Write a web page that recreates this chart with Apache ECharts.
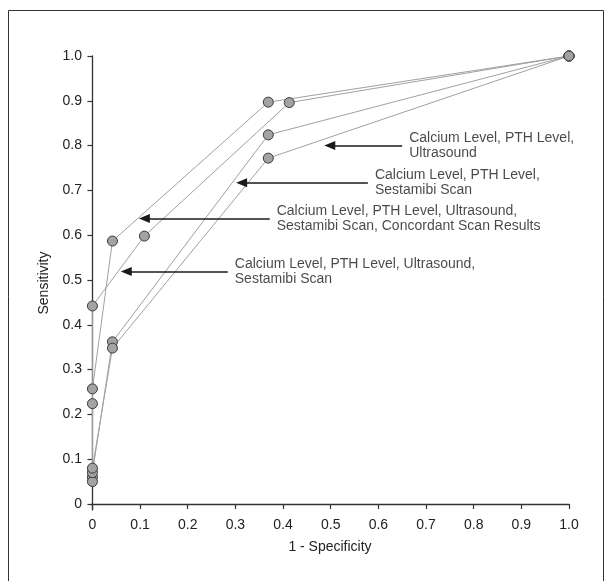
<!DOCTYPE html>
<html>
<head>
<meta charset="utf-8">
<script src="https://cdn.jsdelivr.net/npm/echarts@6/dist/echarts.min.js"></script>
<style>html,body{margin:0;padding:0;background:#fff}#c{width:611px;height:581px}</style>
</head>
<body>
<div id="c"></div>
<script>
// ROC curve points: [1-specificity, sensitivity]
const curveConcordant = [[0,0.060],[0,0.257],[0.042,0.587],[0.369,0.897],[1,1]];
const curveUsSestamibi = [[0,0.050],[0,0.224],[0,0.442],[0.109,0.598],[0.413,0.896],[1,1]];
const curveSestamibi = [[0,0.070],[0.042,0.362],[0.369,0.824],[1,1]];
const curveUltrasound = [[0,0.080],[0.042,0.348],[0.369,0.772],[1,1]];

const tickValues = [0,0.1,0.2,0.3,0.4,0.5,0.6,0.7,0.8,0.9,1.0];

// annotations: arrow tail x, arrow tip x, y, text
const annoY = [0.800, 0.717, 0.637, 0.519];
const annoTip = [0.498, 0.313, 0.109, 0.071];
const annoEnd = [0.650, 0.578, 0.372, 0.284];
const annoText = [
  'Calcium Level, PTH Level,\nUltrasound',
  'Calcium Level, PTH Level,\nSestamibi Scan',
  'Calcium Level, PTH Level, Ultrasound,\nSestamibi Scan, Concordant Scan Results',
  'Calcium Level, PTH Level, Ultrasound,\nSestamibi Scan'
];

const FONT = '"Liberation Sans", Arial, Helvetica, sans-serif';
const fmt = v => (v === 0 ? '0' : v.toFixed(1));

function curveSeries(name, data) {
  return {
    name, type: 'line', data, z: 3,
    symbol: 'circle', symbolSize: 10,
    lineStyle: { color: '#a0a0a0', width: 1 },
    itemStyle: { color: '#a3a3a3', borderColor: '#3a3a3a', borderWidth: 1 },
    emphasis: { disabled: true }, animation: false
  };
}

const chart = echarts.init(document.getElementById('c'), null, { renderer: 'canvas' });
chart.setOption({
  backgroundColor: '#fff',
  animation: false,
  textStyle: { fontFamily: FONT },
  graphic: [{
    type: 'rect', shape: { x: 8.5, y: 10.5, width: 595, height: 590 },
    style: { fill: 'none', stroke: '#333', lineWidth: 1 }, silent: true, z: -1
  }],
  grid: { left: 91, right: 42, top: 56, bottom: 71 },
  xAxis: {
    type: 'value', min: -0.003, max: 1,
    name: '1 - Specificity', nameLocation: 'middle', nameGap: 30,
    nameTextStyle: { fontSize: 14, color: '#222', fontFamily: FONT },
    axisLine: { show: true, lineStyle: { color: '#333', width: 1.3 } },
    axisTick: { show: true, inside: false, length: 5, customValues: tickValues, lineStyle: { color: '#333', width: 1.2 } },
    axisLabel: { customValues: tickValues, formatter: fmt, fontSize: 14, color: '#222', margin: 8, fontFamily: FONT },
    splitLine: { show: false }
  },
  yAxis: {
    type: 'value', min: -0.0134, max: 1,
    name: 'Sensitivity', nameLocation: 'middle', nameGap: 38, nameRotate: 90,
    nameTextStyle: { fontSize: 14, color: '#222', fontFamily: FONT },
    axisLine: { show: true, lineStyle: { color: '#333', width: 1.3 } },
    axisTick: { show: true, inside: false, length: 5, customValues: tickValues, lineStyle: { color: '#333', width: 1.2 } },
    axisLabel: { customValues: tickValues, formatter: fmt, fontSize: 14, color: '#222', margin: 9, fontFamily: FONT },
    splitLine: { show: false }
  },
  series: [
    curveSeries('Concordant', curveConcordant),
    curveSeries('UsSestamibi', curveUsSestamibi),
    curveSeries('Sestamibi', curveSestamibi),
    curveSeries('Ultrasound', curveUltrasound),
    {
      name: 'annotations', type: 'scatter', z: 4,
      symbolSize: 0, silent: true,
      data: annoY.map((y, i) => ({ value: [annoEnd[i], y], text: annoText[i] })),
      label: {
        show: true, position: 'right', distance: 7,
        formatter: p => p.data.text,
        fontSize: 14, lineHeight: 15, color: '#1a1a1a', fontFamily: FONT, align: 'left'
      },
      markLine: {
        silent: true, animation: false,
        symbol: ['none', 'triangle'], symbolSize: [9, 11],
        lineStyle: { color: '#1a1a1a', width: 1.5, type: 'solid' },
        label: { show: false },
        data: annoY.map((y, i) => [{ coord: [annoEnd[i], y] }, { coord: [annoTip[i], y] }])
      }
    }
  ]
});
</script>
</body>
</html>
